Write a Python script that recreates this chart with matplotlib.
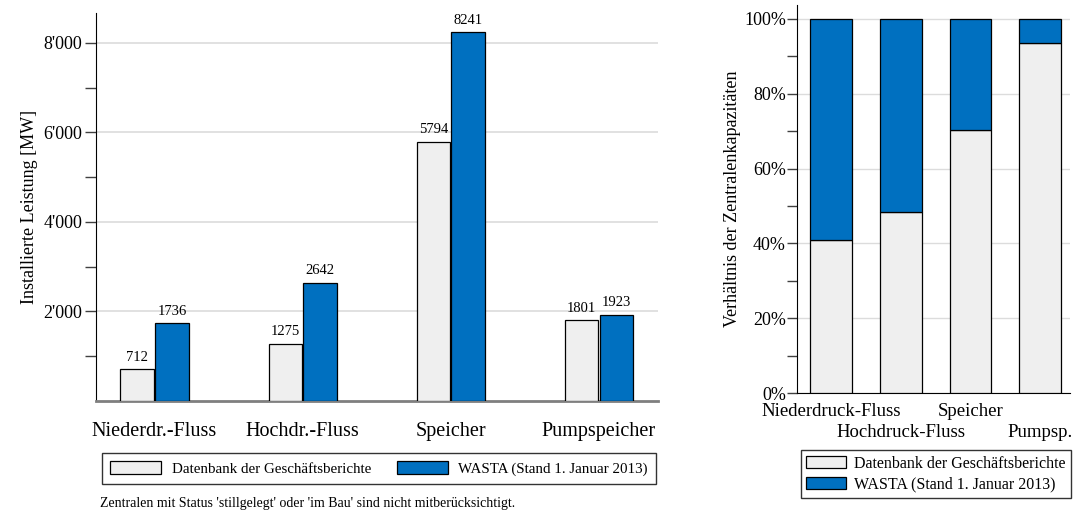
import numpy as np
import matplotlib.pyplot as plt
from matplotlib.ticker import FuncFormatter, FixedLocator, MultipleLocator

plt.rcParams['font.family'] = ['Liberation Serif', 'DejaVu Serif']

# Daten
kategorien = ["Niederdr.-Fluss", "Hochdr.-Fluss", "Speicher", "Pumpspeicher"]
kategorien_kurz = ["Niederdruck-Fluss", "Hochdruck-Fluss", "Speicher", "Pumpsp."]
datenbank = [712, 1275, 5794, 1801]
wasta = [1736, 2642, 8241, 1923]
serien = ["Datenbank der Geschäftsberichte", "WASTA (Stand 1. Januar 2013)"]
fussnote = "Zentralen mit Status 'stillgelegt' oder 'im Bau' sind nicht mitberücksichtigt."

GRAU = "#EFEFEF"
BLAU = "#0070C0"
GITTER = "#DCDCDC"

fig = plt.figure(figsize=(10.77, 5.13), dpi=100)

# linkes Diagramm: absolute Leistung
ax1 = fig.add_axes([96 / 1077, 1 - 401 / 513, 562 / 1077, 388 / 513])
x = np.arange(len(kategorien))
w = 0.225
b1 = ax1.bar(x - w / 2 - 0.005, datenbank, w, color=GRAU, edgecolor="black", linewidth=0.9, zorder=3)
b2 = ax1.bar(x + w / 2 + 0.005, wasta, w, color=BLAU, edgecolor="black", linewidth=0.9, zorder=3)
ax1.bar_label(b1, padding=4, fontsize=10.5)
ax1.bar_label(b2, padding=4, fontsize=10.5)

ax1.set_xlim(-0.395, 3.4)
ax1.set_ylim(0, 8670)
ax1.set_xticks(x)
ax1.set_xticklabels(kategorien, fontsize=14.5)
ax1.tick_params(axis="x", length=0, pad=15)
ax1.yaxis.set_major_locator(FixedLocator([2000, 4000, 6000, 8000]))
ax1.yaxis.set_minor_locator(FixedLocator([1000, 3000, 5000, 7000]))
ax1.yaxis.set_major_formatter(FuncFormatter(lambda v, p: f"{int(v):,}".replace(",", "'")))
ax1.tick_params(axis="y", which="both", length=8, width=1, color="#404040", labelsize=13, direction="out", pad=2)
ax1.grid(axis="y", color=GITTER, linewidth=1.2, zorder=0)
ax1.set_ylabel("Installierte Leistung [MW]", fontsize=13, labelpad=4)
for s in ["top", "right"]:
    ax1.spines[s].set_visible(False)
ax1.spines["left"].set_color("black")
ax1.spines["bottom"].set_color("#7F7F7F")
ax1.spines["bottom"].set_linewidth(2)

leg1 = fig.legend([b1, b2], serien, loc="center", bbox_to_anchor=(379 / 1077, 1 - 468.5 / 513),
                  ncol=2, fontsize=10.8, frameon=True, fancybox=False, edgecolor="black",
                  handlelength=3.4, handleheight=1.0, handletextpad=0.7, columnspacing=1.7,
                  borderpad=0.55, borderaxespad=0)
leg1.get_frame().set_linewidth(1.0)
fig.text(100 / 1077, 1 - 503 / 513, fussnote, fontsize=10, va="center", ha="left")

# rechtes Diagramm: Verhältnis
ax2 = fig.add_axes([797 / 1077, 1 - 393 / 513, 273 / 1077, 388 / 513])
anteil = np.array(datenbank) / np.array(wasta)
rest = 1 - anteil
c1 = ax2.bar(x, anteil, 0.6, color=GRAU, edgecolor="black", linewidth=0.9, zorder=3)
c2 = ax2.bar(x, rest, 0.6, bottom=anteil, color=BLAU, edgecolor="black", linewidth=0.9, zorder=3)
ax2.set_xlim(-0.49, 3.43)
ax2.set_ylim(0, 1.037)
ax2.set_xticks(x)
ax2.set_xticklabels(kategorien_kurz, fontsize=13.5)
for i, t in enumerate(ax2.get_xticklabels()):
    if i % 2 == 1:
        t.set_y(-0.054)
ax2.tick_params(axis="x", length=0, pad=7)
ax2.yaxis.set_major_locator(MultipleLocator(0.2))
ax2.yaxis.set_minor_locator(MultipleLocator(0.1))
ax2.yaxis.set_major_formatter(FuncFormatter(lambda v, p: f"{v * 100:.0f}%"))
ax2.tick_params(axis="y", which="both", length=7, width=1, color="#404040", labelsize=13, direction="out", pad=1)
ax2.grid(axis="y", color=GITTER, linewidth=1.0, zorder=0)
ax2.set_ylabel("Verhältnis der Zentralenkapazitäten", fontsize=13, labelpad=2)
for s in ["top", "right"]:
    ax2.spines[s].set_visible(False)
ax2.spines["left"].set_color("black")
ax2.spines["bottom"].set_color("black")

leg2 = fig.legend([c1, c2], serien, loc="center", bbox_to_anchor=(936 / 1077, 1 - 474 / 513),
                  ncol=1, fontsize=11.5, frameon=True, fancybox=False, edgecolor="black",
                  handlelength=2.5, handleheight=0.8, handletextpad=0.5, labelspacing=0.3,
                  borderpad=0.35, borderaxespad=0)
leg2.get_frame().set_linewidth(1.0)

fig.savefig("out.png", dpi=100)
